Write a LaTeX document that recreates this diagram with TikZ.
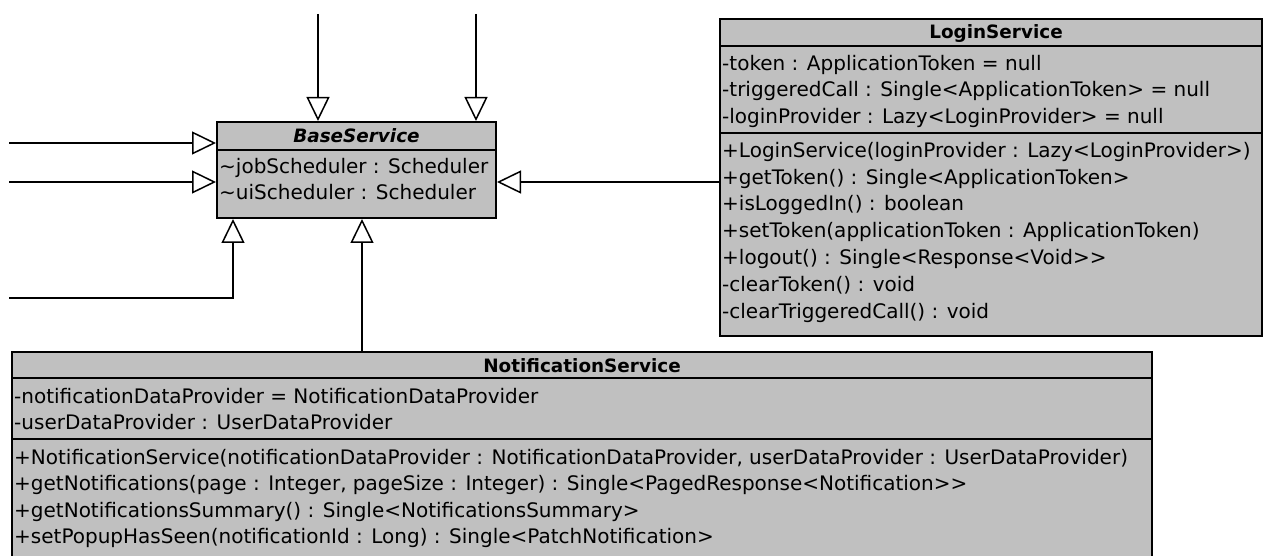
\documentclass[tikz,border=0pt]{standalone}
\usepackage{fontspec}
\setmainfont{DejaVu Sans}
\usetikzlibrary{arrows.meta}
\definecolor{classfill}{RGB}{192,192,192}
\tikzset{
  classbox/.style={draw=black, fill=classfill, line width=2pt, inner sep=0pt, rectangle},
  sepline/.style={line width=1.6pt},
  member/.style={anchor=base west, inner sep=0pt, font=\fontsize{20}{24}\selectfont},
  classname/.style={anchor=base, inner sep=0pt, font=\fontsize{18.4}{22}\selectfont\bfseries},
  gen/.style={line width=1.5pt, -{Triangle[open,length=24pt,width=23pt]}},
}
\begin{document}
\begin{tikzpicture}[x=1pt,y=-1pt]
\useasboundingbox (0,0) rectangle (1264,556);
\clip (0,0) rectangle (1264,556);

% ---- BaseService ----
\node[classbox, minimum width=279pt, minimum height=96pt] (base) at (356.5,170) {};
\draw[sepline] (base.west |- 0,150) -- (base.east |- 0,150);
\node[classname, font=\fontsize{18.4}{22}\selectfont\bfseries\itshape] (baseT) at (356.5,143) {BaseService};
\node[member] (baseA1) at (219,174) {\textasciitilde jobScheduler : Scheduler};
\node[member] (baseA2) at (219,200) {\textasciitilde uiScheduler : Scheduler};

% ---- LoginService ----
\node[classbox, minimum width=542pt, minimum height=317pt] (login) at (991,177.5) {};
\draw[sepline] (login.west |- 0,46) -- (login.east |- 0,46);
\draw[sepline] (login.west |- 0,133) -- (login.east |- 0,133);
\node[classname] (loginT) at (996,39) {LoginService};
\node[member] (loginA1) at (722,71) {-token : ApplicationToken = null};
\node[member] (loginA2) at (722,97) {-triggeredCall : Single<ApplicationToken> = null};
\node[member] (loginA3) at (722,124) {-loginProvider : Lazy<LoginProvider> = null};
\node[member] (loginM1) at (722,158) {+LoginService(loginProvider : Lazy<LoginProvider>)};
\node[member] (loginM2) at (722,185) {+getToken() : Single<ApplicationToken>};
\node[member] (loginM3) at (722,211) {+isLoggedIn() : boolean};
\node[member] (loginM4) at (722,238) {+setToken(applicationToken : ApplicationToken)};
\node[member] (loginM5) at (722,265) {+logout() : Single<Response<Void>{}>};
\node[member] (loginM6) at (722,291) {-clearToken() : void};
\node[member] (loginM7) at (722,318) {-clearTriggeredCall() : void};

% ---- NotificationService ----
\node[classbox, minimum width=1140pt, minimum height=228pt] (notif) at (582,466) {};
\draw[sepline] (notif.west |- 0,378) -- (notif.east |- 0,378);
\draw[sepline] (notif.west |- 0,439) -- (notif.east |- 0,439);
\node[classname] (notifT) at (582,372) {NotificationService};
\node[member] (notifA1) at (14,403) {-notificationDataProvider = NotificationDataProvider};
\node[member] (notifA2) at (14,429) {-userDataProvider : UserDataProvider};
\node[member] (notifM1) at (14,464) {+NotificationService(notificationDataProvider : NotificationDataProvider, userDataProvider : UserDataProvider)};
\node[member] (notifM2) at (14,490) {+getNotifications(page : Integer, pageSize : Integer) : Single<PagedResponse<Notification>{}>};
\node[member] (notifM3) at (14,517) {+getNotificationsSummary() : Single<NotificationsSummary>};
\node[member] (notifM4) at (14,543) {+setPopupHasSeen(notificationId : Long) : Single<PatchNotification>};

% ---- generalization connectors (free ends) ----
\coordinate (top1) at (318,14);
\coordinate (top2) at (476,14);
\coordinate (left1) at (9,143);
\coordinate (left2) at (9,182);
\coordinate (left3) at (9,298);
\coordinate (bend3) at (233,298);
\coordinate (midN) at (362,352);
\coordinate (midL) at (720,182);

\draw[gen] (top1) -- (base.north -| top1);
\draw[gen] (top2) -- (base.north -| top2);
\draw[gen] (left1) -- (base.west |- left1);
\draw[gen] (left2) -- (base.west |- left2);
\draw[gen] (left3) -- (bend3) -- (base.south -| bend3);
\draw[gen] (notif.north -| midN) -- (base.south -| midN);
\draw[gen] (login.west |- midL) -- (base.east |- midL);
\end{tikzpicture}
\end{document}
